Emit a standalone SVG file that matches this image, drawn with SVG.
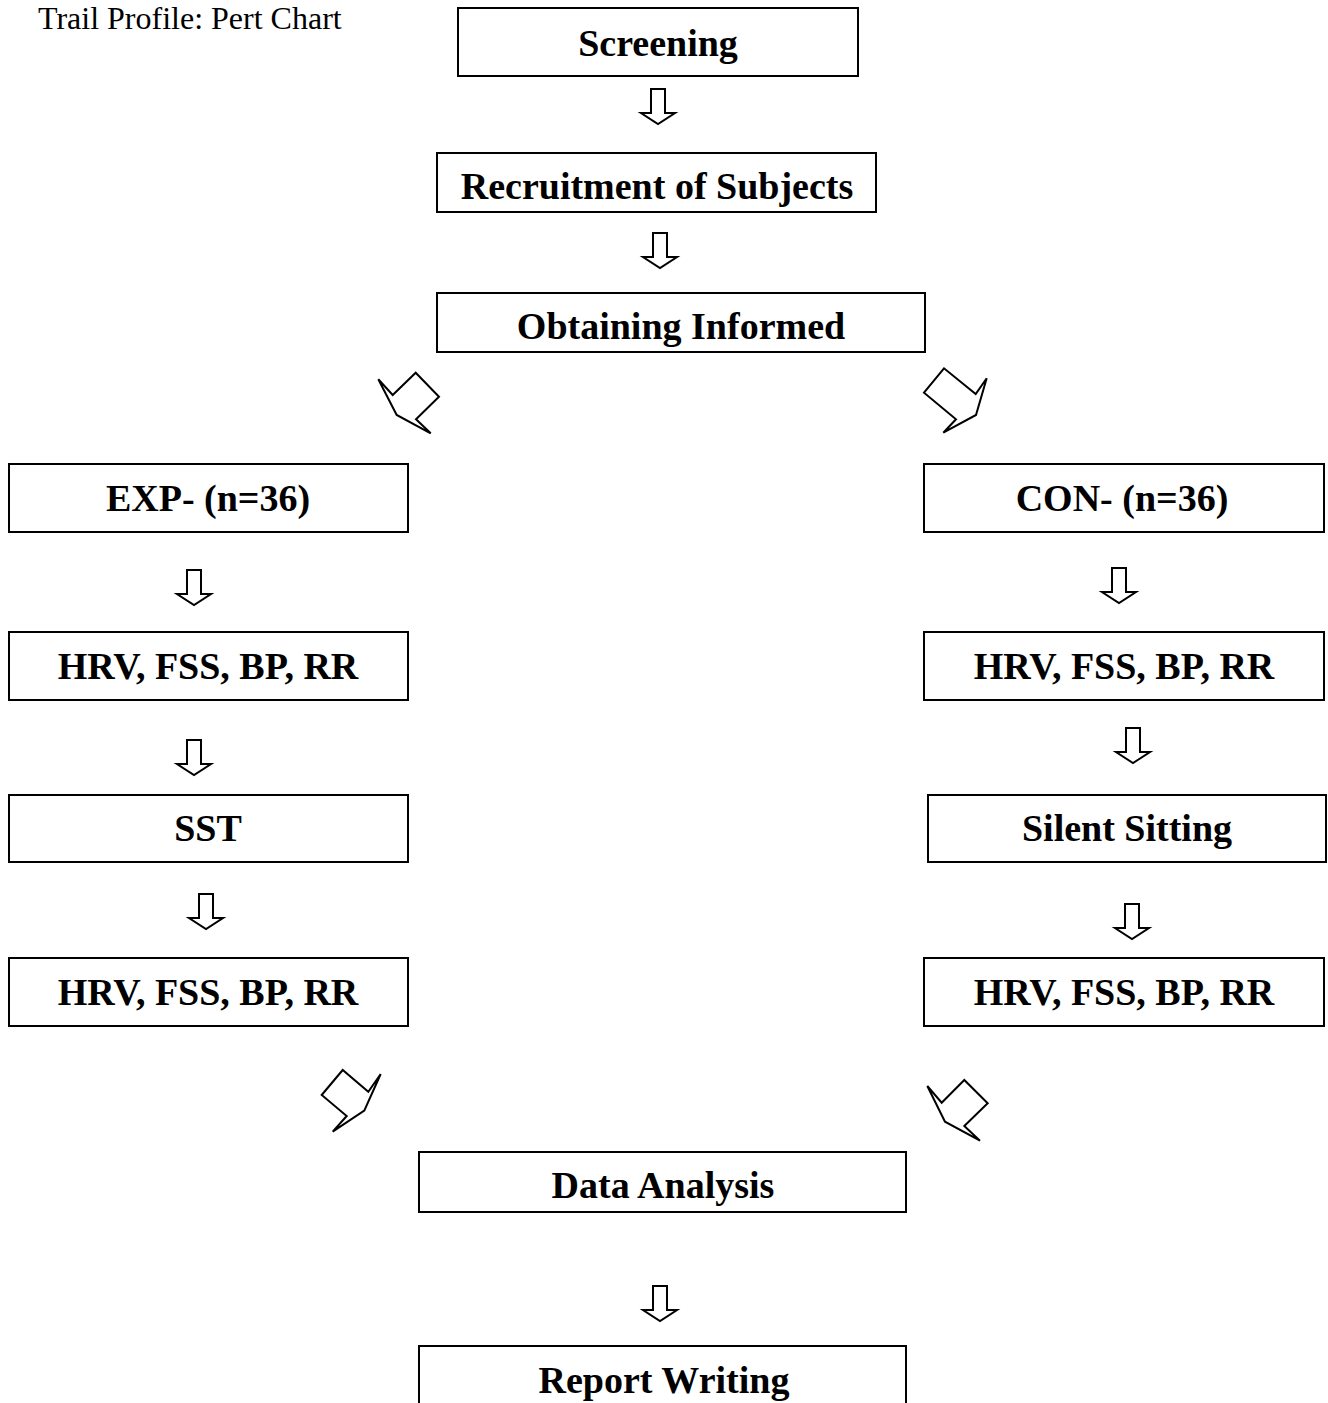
<svg xmlns="http://www.w3.org/2000/svg" xmlns:xlink="http://www.w3.org/1999/xlink" width="1328" height="1403" viewBox="0 0 1328 1403">
<style>
.box{fill:#fff;stroke:#000;stroke-width:2}
.t{font-family:"Liberation Serif","Times New Roman",serif;font-weight:bold;font-size:38px;text-anchor:middle;fill:#000}
.title{font-family:"Liberation Serif","Times New Roman",serif;font-size:32px;fill:#000}
.arr{fill:#fff;stroke:#000;stroke-width:2;stroke-linejoin:miter}
</style>
<defs>
<path id="down" d="M-7,0 H7 V24 H17 L0,35 L-17,24 H-7 Z"/>
</defs>
<rect width="1328" height="1403" fill="#fff"/>
<text class="title" x="38" y="29">Trail Profile: Pert Chart</text>
<g id="connectors">
<use xlink:href="#down" class="arr" x="658" y="89"/>
<use xlink:href="#down" class="arr" x="660" y="233"/>
<use xlink:href="#down" class="arr" x="194" y="570"/>
<use xlink:href="#down" class="arr" x="1119" y="568"/>
<use xlink:href="#down" class="arr" x="194" y="740"/>
<use xlink:href="#down" class="arr" x="1133" y="728"/>
<use xlink:href="#down" class="arr" x="206" y="894"/>
<use xlink:href="#down" class="arr" x="1132" y="904"/>
<use xlink:href="#down" class="arr" x="660" y="1286"/>
<polygon class="arr" points="378.3,379.3 392.7,395 415.7,372.7 439,396.7 416,419.3 430.7,433.3 396.7,415"/>
<polygon class="arr" points="924,392.7 944,368.3 975.7,394 986.7,378.3 976,415 943.3,432.7 956,419.3"/>
<polygon class="arr" points="321.7,1095 342.7,1070 368.3,1091.7 380.7,1074 364.3,1110.7 332.7,1131.7 346.7,1116"/>
<polygon class="arr" points="927.3,1086 941.7,1102.7 964.3,1080 987.7,1103.3 964.3,1126 980,1140.7 945,1121.7"/>
</g>
<g id="n1"><rect class="box" x="458" y="8" width="400" height="68"/><text class="t" x="658" y="56">Screening</text></g>
<g id="n2"><rect class="box" x="437" y="153" width="439" height="59"/><text class="t" x="657" y="199">Recruitment of Subjects</text></g>
<g id="n3"><rect class="box" x="437" y="293" width="488" height="59"/><text class="t" x="681" y="339">Obtaining Informed</text></g>
<g id="n4"><rect class="box" x="9" y="464" width="399" height="68"/><text class="t" x="208" y="511">EXP- (n=36)</text></g>
<g id="n5"><rect class="box" x="924" y="464" width="400" height="68"/><text class="t" x="1122" y="511">CON- (n=36)</text></g>
<g id="n6"><rect class="box" x="9" y="632" width="399" height="68"/><text class="t" x="208" y="679">HRV, FSS, BP, RR</text></g>
<g id="n7"><rect class="box" x="924" y="632" width="400" height="68"/><text class="t" x="1124" y="679">HRV, FSS, BP, RR</text></g>
<g id="n8"><rect class="box" x="9" y="795" width="399" height="67"/><text class="t" x="208" y="841">SST</text></g>
<g id="n9"><rect class="box" x="928" y="795" width="398" height="67"/><text class="t" x="1127" y="841">Silent Sitting</text></g>
<g id="n10"><rect class="box" x="9" y="958" width="399" height="68"/><text class="t" x="208" y="1005">HRV, FSS, BP, RR</text></g>
<g id="n11"><rect class="box" x="924" y="958" width="400" height="68"/><text class="t" x="1124" y="1005">HRV, FSS, BP, RR</text></g>
<g id="n12"><rect class="box" x="419" y="1152" width="487" height="60"/><text class="t" x="663" y="1198">Data Analysis</text></g>
<g id="n13"><rect class="box" x="419" y="1346" width="487" height="70"/><text class="t" x="664" y="1393">Report Writing</text></g>
</svg>
